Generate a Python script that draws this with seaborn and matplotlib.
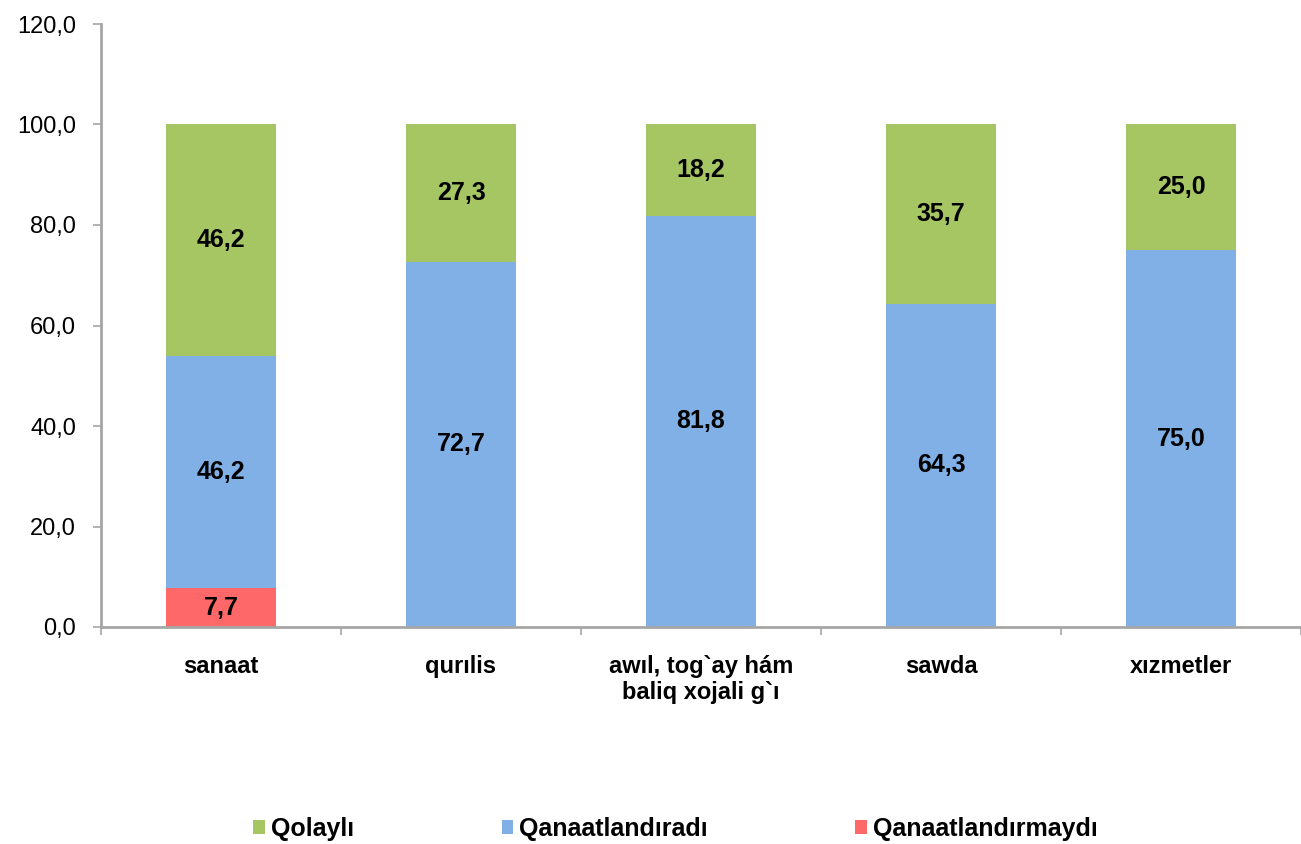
import numpy as np
import pandas as pd
import seaborn as sns
import matplotlib.pyplot as plt
from matplotlib.patches import Patch

# 数据
categories = ['sanaat', 'qurılis', 'awıl, tog`ay hám\nbaliq xojali g`ı', 'sawda', 'xızmetler']
qanaatlandirmaydi = [7.7, 0.0, 0.0, 0.0, 0.0]
qanaatlandiradi = [46.2, 72.7, 81.8, 64.3, 75.0]
qolayli = [46.2, 27.3, 18.2, 35.7, 25.0]
series_names = ['Qolaylı', 'Qanaatlandıradı', 'Qanaatlandırmaydı']
colors = ['#A5C663', '#80B0E6', '#FF6868']

sns.set_theme(style='white')
plt.rcParams['font.family'] = ['Liberation Sans', 'DejaVu Sans']
plt.rcParams['text.color'] = 'black'
plt.rcParams['xtick.labelcolor'] = 'black'
plt.rcParams['ytick.labelcolor'] = 'black'

df = pd.DataFrame({'cat': categories, 'red': qanaatlandirmaydi,
                   'blue': qanaatlandiradi, 'green': qolayli})

fig = plt.figure(figsize=(13.01, 8.44), dpi=100)
ax = fig.add_axes([101 / 1301, 1 - 627 / 844, 1200 / 1301, (627 - 24) / 844])

bottom_blue = df['red'].values
bottom_green = df['red'].values + df['blue'].values
w = 0.46
sns.barplot(data=df, x='cat', y='red', color=colors[2], width=w, ax=ax,
            saturation=1, linewidth=0)
sns.barplot(data=df, x='cat', y='blue', color=colors[1], width=w, ax=ax,
            saturation=1, linewidth=0, bottom=bottom_blue)
sns.barplot(data=df, x='cat', y='green', color=colors[0], width=w, ax=ax,
            saturation=1, linewidth=0, bottom=bottom_green)

for cont in ax.containers:
    vals = [p.get_height() for p in cont]
    labels = [f'{v:.1f}'.replace('.', ',') if v > 0 else '' for v in vals]
    ax.bar_label(cont, labels=labels, label_type='center',
                 fontsize=18, fontweight='bold', color='black')

ax.set_ylim(0, 120)
ax.set_xlim(-0.497, 4.472)
ax.set_yticks(np.arange(0, 121, 20))
ax.set_yticklabels([f'{v:.1f}'.replace('.', ',') for v in np.arange(0, 121, 20)],
                   fontsize=17)
ax.set_xlabel('')
ax.set_ylabel('')
ax.set_xticks(range(len(categories)))
ax.set_xticklabels(categories, fontsize=17, fontweight='bold')
ax.tick_params(axis='x', length=0, pad=20)
ax.tick_params(axis='y', length=6, width=1.2, color='#a6a6a6', pad=12, left=True)
# 类别之间的刻度线
ax.set_xticks(np.arange(-0.5, 4.6, 1.0), minor=True)
ax.tick_params(axis='x', which='minor', length=6, width=1.2, color='#a6a6a6',
               bottom=True)

for s in ['top', 'right']:
    ax.spines[s].set_visible(False)
for s in ['left', 'bottom']:
    ax.spines[s].set_color('#a6a6a6')
    ax.spines[s].set_linewidth(2)

handles = [Patch(facecolor=c, edgecolor='none') for c in colors]
leg = fig.legend(handles, series_names, loc='center left',
                 bbox_to_anchor=(241 / 1301, 1 - 829 / 844),
                 ncol=3, frameon=False, handlelength=0.45, handleheight=0.45,
                 handletextpad=0.25, columnspacing=5.9, borderpad=0,
                 prop={'size': 18, 'weight': 'bold'})

fig.savefig('out.png', dpi=100)
